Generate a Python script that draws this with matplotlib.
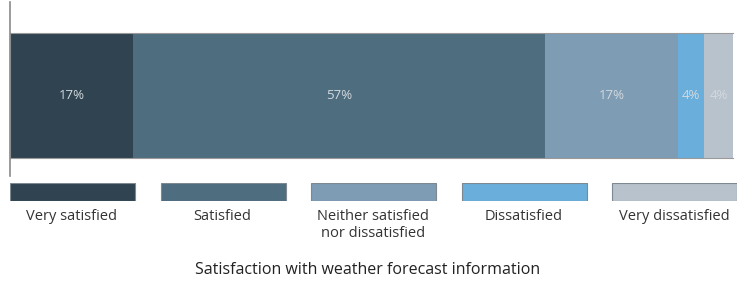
import matplotlib
matplotlib.use("Agg")
import matplotlib.pyplot as plt

plt.rcParams['font.family'] = ['Open Sans', 'DejaVu Sans']

# data
categories = ['Very satisfied', 'Satisfied', 'Neither satisfied\nnor dissatisfied',
              'Dissatisfied', 'Very dissatisfied']
values = [17, 57, 18.4, 3.6, 4]
labels = ['17%', '57%', '17%', '4%', '4%']
colors = ['#2f4350', '#4e6d7f', '#7e9cb4', '#6aafdb', '#b8c2cd']
title = 'Satisfaction with weather forecast information'

fig = plt.figure(figsize=(7.37, 2.85), dpi=100)

# stacked bar
ax = fig.add_axes([10/737, 1 - 158/285, 723/737, 125/285])
left = 0
for v, lab, c in zip(values, labels, colors):
    ax.barh(0, v, left=left, height=1, color=c, edgecolor='none')
    ax.text(left + v/2, 0, lab, ha='center', va='center', fontsize=9.5,
            color='#d3d9de')
    left += v
ax.set_xlim(0, sum(values))
ax.set_ylim(-0.5, 0.5)
ax.set_xticks([])
ax.set_yticks([])
for s in ax.spines.values():
    s.set_color('#9a9a9a')
    s.set_linewidth(0.8)
ax.spines['right'].set_visible(False)

# left guide line running from top down past the bar
fig.add_artist(plt.Line2D([10/737, 10/737], [1 - 2/285, 1 - 176/285],
                          color='#8a8a8a', lw=1.2))

# legend patches
lax = fig.add_axes([10/737, 1 - 201/285, 727/737, 18/285])
lax.set_xlim(0, 727)
lax.set_ylim(0, 1)
for i, (cat, c) in enumerate(zip(categories, colors)):
    x0 = i * 150.5
    lax.bar(x0, 1, width=125, align='edge', color=c, edgecolor='#7d8890',
            linewidth=0.8)
    lax.text(x0 + 62, -0.45, cat, ha='center', va='top', fontsize=10.5,
             color='#333333', linespacing=1.2)
lax.axis('off')

fig.text(368/737, 1 - 270/285, title, ha='center', va='center',
         fontsize=11.5, color='#222222')

fig.savefig('out.png', dpi=100)
